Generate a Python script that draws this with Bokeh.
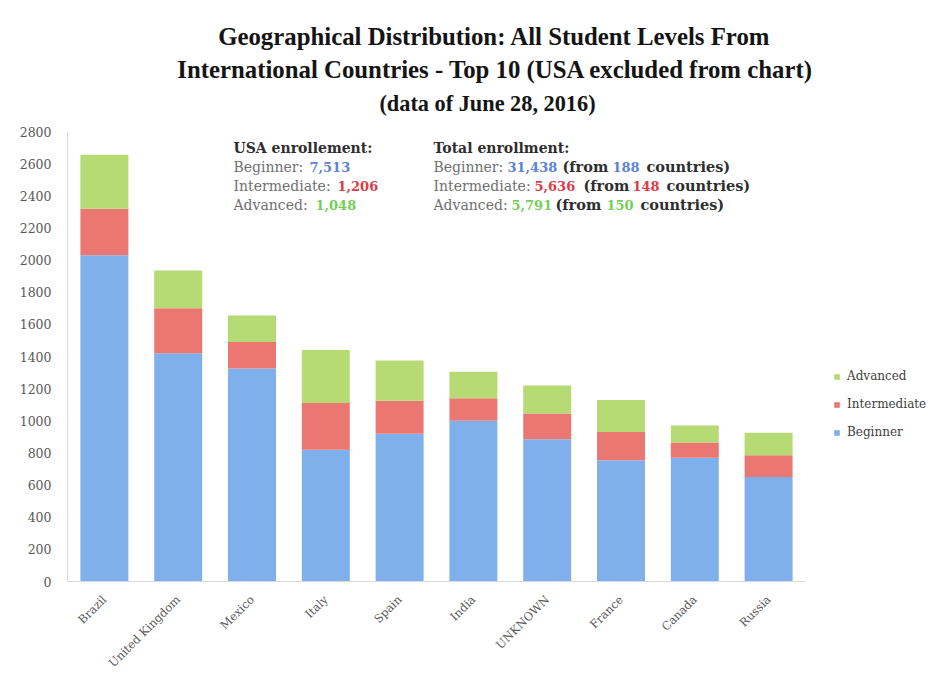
import math
from bokeh.plotting import figure
from bokeh.models import (Range1d, Label, Legend, LegendItem,
                          FixedTicker, ColumnDataSource)
from bokeh.embed import file_html
from bokeh.resources import INLINE

# ---------------- data ----------------
countries = ["Brazil", "United Kingdom", "Mexico", "Italy", "Spain", "India",
             "UNKNOWN", "France", "Canada", "Russia"]
beginner = [2030, 1420, 1325, 820, 920, 1000, 885, 755, 770, 650]
intermediate = [290, 280, 165, 290, 205, 140, 160, 175, 95, 135]
advanced = [335, 235, 165, 330, 250, 165, 175, 200, 105, 140]
levels = ["Beginner", "Intermediate", "Advanced"]
y_ticks = list(range(0, 2801, 200))

usa_values = ["7,513", "1,206", "1,048"]
total_values = ["31,438", "5,636", "5,791"]
total_countries = ["188", "148", "150"]

title_lines = ["Geographical Distribution: All Student Levels From",
               "International Countries - Top 10 (USA excluded from chart)"]
subtitle = "(data of June 28, 2016)"

# ---------------- style ----------------
BLUE, RED, GREEN = "#7fb0eb", "#eb7772", "#b6da74"
NUM_COLORS = ["#5b84d6", "#dc3d45", "#74cf57"]
GRAY = "#707070"
DARK = "#2e2e2e"
SERIF = "DejaVu Serif"
TITLE_FONT = "Liberation Serif"

W, H = 940, 682
FL, FR, FT, FB = 67, 805, 131, 581   # pixel box of the category area
YMAX = 2800
N = len(countries)

def sx(px):
    return (px - FL) / (FR - FL) * N

def sy(py):
    return (FB - py) / (FB - FT) * YMAX

xs = [i + 0.5 for i in range(N)]

p = figure(x_range=Range1d(0, sx(W)), y_range=Range1d(0, sy(0)),
           width=W, height=H, output_backend="svg", toolbar_location=None,
           min_border_left=FL, min_border_right=0,
           min_border_top=0, min_border_bottom=H - FB, title=None)

source = ColumnDataSource(dict(x=xs, country=countries, Beginner=beginner,
                               Intermediate=intermediate, Advanced=advanced))
rs = p.vbar_stack(levels, x="x", width=0.65, color=[BLUE, RED, GREEN],
                  line_color=None, source=source)

p.xgrid.visible = False
p.ygrid.visible = False
p.outline_line_color = None

p.yaxis.ticker = FixedTicker(ticks=y_ticks)
p.yaxis.bounds = (0, YMAX)
p.yaxis.major_tick_line_color = None
p.yaxis.minor_tick_line_color = None
p.yaxis.axis_line_color = "#d9d9d9"
p.yaxis.major_label_text_font = SERIF
p.yaxis.major_label_text_font_size = "12.5px"
p.yaxis.major_label_text_color = "#595959"
p.yaxis.major_label_standoff = 10

p.xaxis.ticker = FixedTicker(ticks=xs)
p.xaxis.major_label_overrides = {x: c for x, c in zip(xs, countries)}
p.xaxis.bounds = (0, N)
p.xaxis.major_label_orientation = math.pi / 4
p.xaxis.major_tick_line_color = None
p.xaxis.minor_tick_line_color = None
p.xaxis.axis_line_color = "#d9d9d9"
p.xaxis.major_label_text_font = SERIF
p.xaxis.major_label_text_font_size = "11.5px"
p.xaxis.major_label_text_color = "#595959"
p.xaxis.major_label_standoff = 10

legend = Legend(items=[LegendItem(label="Advanced", renderers=[rs[2]]),
                       LegendItem(label="Intermediate", renderers=[rs[1]]),
                       LegendItem(label="Beginner", renderers=[rs[0]])],
                location=(833 - FL, H - 442 - (H - FB)), glyph_width=7, glyph_height=7,
                label_height=20, spacing=8, padding=0, margin=0,
                border_line_color=None, background_fill_alpha=0,
                label_text_font=SERIF, label_text_font_size="12px",
                label_text_color="#404040", label_standoff=7)
p.add_layout(legend, "center")

# ---------------- titles ----------------
def title_label(px, py, text, size):
    p.add_layout(Label(x=sx(px), y=sy(py), text=text, text_align="center",
                       text_baseline="alphabetic", text_font=TITLE_FONT,
                       text_font_style="bold", text_font_size=size,
                       text_color="#141414"))

title_label(494, 36, title_lines[0], "24.8px")
title_label(495, 69, title_lines[1], "24.8px")
title_label(487, 103, subtitle, "22.3px")

# ---------------- annotations ----------------
def note(px, py, text, color, bold=False, size="14px"):
    p.add_layout(Label(x=sx(px), y=sy(py), text=text, text_baseline="middle",
                       text_font=SERIF, text_font_size=size,
                       text_font_style="bold" if bold else "normal",
                       text_color=color))

rows_y = [166, 185, 204]
names = ["Beginner:", "Intermediate:", "Advanced:"]

note(233, 147, "USA enrollement:", DARK, bold=True, size="14px")
usa_num_x = [309, 337, 315]
for i in range(3):
    note(233, rows_y[i], names[i], GRAY)
    note(usa_num_x[i], rows_y[i], usa_values[i], NUM_COLORS[i], bold=True, size="13px")

note(433, 147, "Total enrollment:", DARK, bold=True, size="14px")
tot_num_x = [507, 534, 511]
from_x = [562, 583, 555]
cnt_x = [612, 632, 606]
ctr_x = [646, 666, 640]
for i in range(3):
    note(433, rows_y[i], names[i], GRAY)
    note(tot_num_x[i], rows_y[i], total_values[i], NUM_COLORS[i], bold=True, size="13px")
    note(from_x[i], rows_y[i], "(from", DARK, bold=True, size="14.5px")
    note(cnt_x[i], rows_y[i], total_countries[i], NUM_COLORS[i], bold=True, size="13px")
    note(ctr_x[i], rows_y[i], "countries)", DARK, bold=True, size="14.5px")

open("out.html", "w").write(file_html(p, INLINE))
